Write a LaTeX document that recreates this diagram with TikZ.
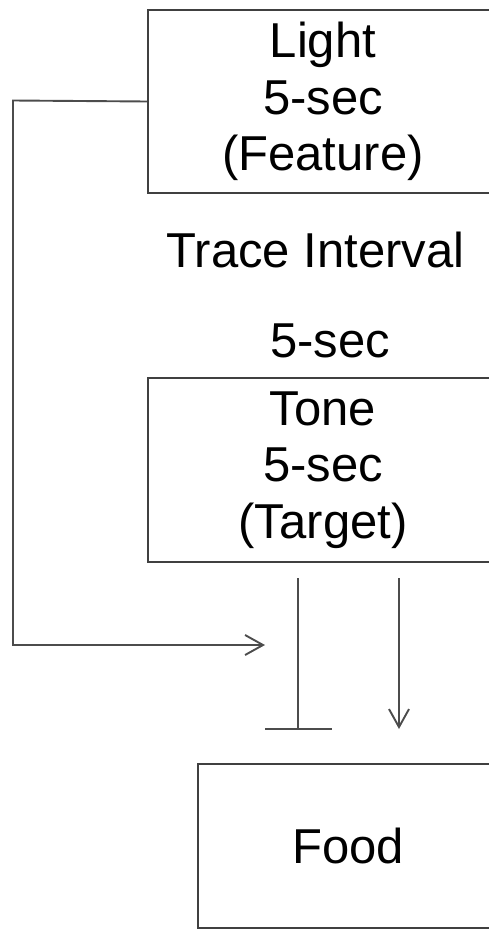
\documentclass[tikz,border=0pt]{standalone}
\usepackage{fontspec}
\setmainfont{Liberation Sans}
\usetikzlibrary{arrows.meta}
\begin{document}
\begin{tikzpicture}[x=1pt,y=-1pt,
  box/.style={draw=black!75, line width=2pt, minimum width=350pt, inner sep=0pt, align=center,
     font=\fontsize{49}{56.5}\selectfont, anchor=north west},
  lbl/.style={inner sep=0pt, anchor=base, font=\fontsize{49}{56.5}\selectfont},
  conn/.style={draw=black!70, line width=1.9pt},
  barb/.style={-{Straight Barb[length=18pt,width=20pt,line width=1.9pt]}}]
\useasboundingbox (0,0) rectangle (489,929);
\clip (0,0) rectangle (489,929);
\node[box, minimum height=183pt] (light) at (147,9) {Light\\5-sec\\(Feature)};
\node[lbl] (trace) at (315.5,267) {Trace Interval};
\node[lbl] (isec) at (330,357) {5-sec};
\node[box, minimum height=184pt] (tone) at (147,377) {Tone\\5-sec\\(Target)};
\node[box, minimum height=164pt, minimum width=300pt] (food) at (197,763) {Food};
\coordinate (c1) at (13,100.5);
\coordinate (c2) at (13,645);
\coordinate (c3) at (265,645);
\coordinate (i1) at (298,578);
\coordinate (i2) at (298,729);
\coordinate (b1) at (265,729);
\coordinate (b2) at (332,729);
\coordinate (a1) at (399,578);
\coordinate (a2) at (399,729);
\draw[conn, barb] (light.west) -- (c1) -- (c2) -- (c3);
\draw[conn] (i1) -- (i2);
\draw[conn] (b1) -- (b2);
\draw[conn, barb] (a1) -- (a2);
\end{tikzpicture}
\end{document}
